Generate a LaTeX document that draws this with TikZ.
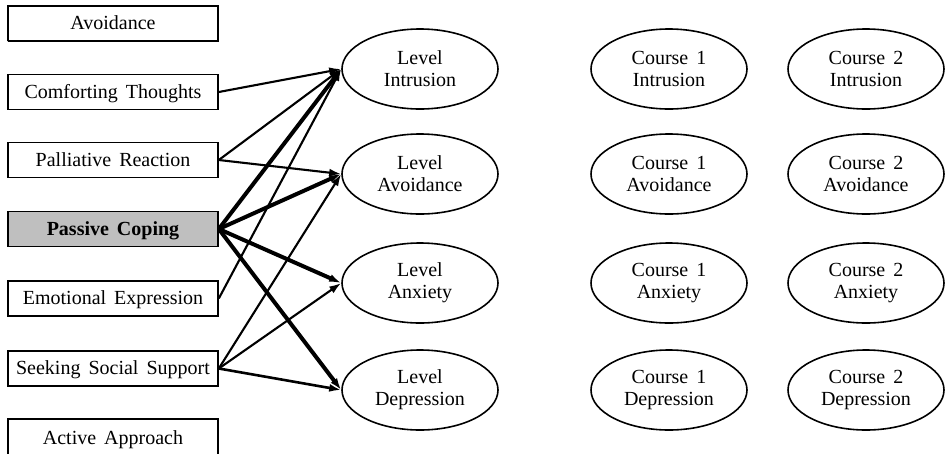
\documentclass[tikz,border=0pt]{standalone}
\usepackage{fontspec}
\setmainfont[WordSpace=1.6]{Liberation Serif}
\usetikzlibrary{arrows.meta,shapes.geometric}

\begin{document}
\begin{tikzpicture}[x=1pt, y=-1pt,
		font=\fontsize{20}{22}\selectfont,
		strategy/.style={draw, line width=1.6pt, minimum width=210pt, minimum height=35pt, inner sep=0pt, text depth=1pt},
		latent/.style={strategy, dash pattern=on 1.6pt off 0.4pt, line width=2.2pt},
		outcome/.style={draw, ellipse, line width=1.6pt, minimum width=156pt, minimum height=80pt, inner sep=0pt, align=center},
		path/.style={line width=2.1pt, -{Latex[length=12pt, width=8pt]}},
		strong/.style={path, line width=4pt}]
		%%%%% START %%%%%
		
		\useasboundingbox (0, 0) rectangle (945, 453);
		
		\node[latent] (avoid) at (113, 23.5) {Avoidance};
		\node[strategy] (comfort) at (113, 92) {Comforting Thoughts};
		\node[strategy] (palliative) at (113, 160) {Palliative Reaction};
		\node[strategy, fill=black!25, font=\fontsize{20}{22}\selectfont\bfseries] (passive) at (113, 229) {Passive Coping};
		\node[strategy] (emotion) at (113, 298.5) {Emotional Expression};
		\node[strategy] (social) at (113, 368.5) {Seeking Social Support};
		\node[latent, minimum height=38pt] (active) at (113, 438) {Active Approach};
		
		\node[outcome] (lint) at (420, 69) {Level\\Intrusion};
		\node[outcome] (lavo) at (420, 174) {Level\\Avoidance};
		\node[outcome] (lanx) at (420, 283) {Level\\Anxiety};
		\node[outcome] (ldep) at (420, 390) {Level\\Depression};
		
		\node[outcome] (aint) at (669, 69) {Course 1\\Intrusion};
		\node[outcome] (aavo) at (669, 174) {Course 1\\Avoidance};
		\node[outcome] (aanx) at (669, 283) {Course 1\\Anxiety};
		\node[outcome] (adep) at (669, 390) {Course 1\\Depression};
		
		\node[outcome] (bint) at (866, 69) {Course 2\\Intrusion};
		\node[outcome] (bavo) at (866, 174) {Course 2\\Avoidance};
		\node[outcome] (banx) at (866, 283) {Course 2\\Anxiety};
		\node[outcome] (bdep) at (866, 390) {Course 2\\Depression};
		
		\draw[path] (comfort.east) -- (lint.west);
		\draw[path] (palliative.east) -- (lint.west);
		\draw[path] (palliative.east) -- (lavo.west);
		
		\draw[strong] (passive.east) -- (lint.west);
		\draw[strong] (passive.east) -- (lavo.west);
		\draw[strong] (passive.east) -- (lanx.west);
		\draw[strong] (passive.east) -- (ldep.west);
		
		\draw[path] (emotion.east) -- (lint.west);
		
		\draw[path] (social.east) -- (lavo.west);
		\draw[path] (social.east) -- (lanx.west);
		\draw[path, line width=2.6pt] (social.east) -- (ldep.west);
		
		%%%%% END %%%%%
	\end{tikzpicture}
\end{document}
